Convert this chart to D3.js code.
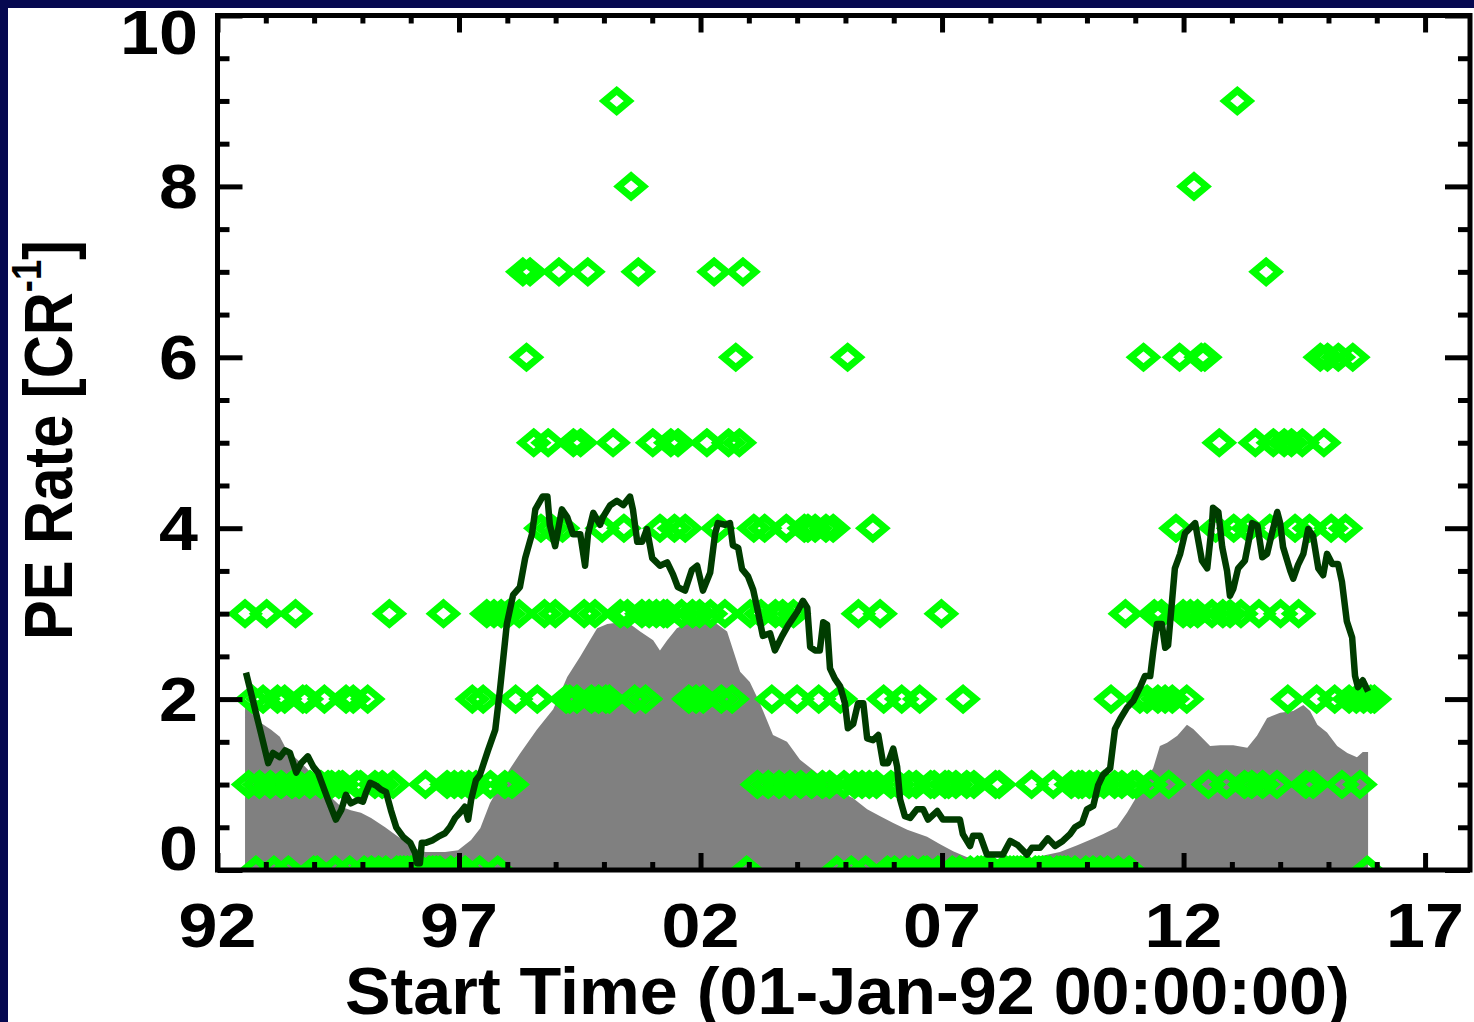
<!DOCTYPE html>
<html><head><meta charset="utf-8">
<script src="https://cdn.jsdelivr.net/npm/d3@7"></script>
<style>html,body{margin:0;padding:0;background:#060850;overflow:hidden}</style>
</head><body>
<svg id="c" width="1474" height="1022"></svg>
<script>
// ---- data ----
const crStartYear = 1992.57;          // first Carrington rotation plotted
const crStepYears = 0.0747;           // one Carrington rotation in years
const peRatePerCR = [
 3,1,2,0,1,2,3,1,0,2, 1,2,0,1,3,1,2,2,1,0, 0,1,2,1,1,0,1,1,2,0, 2,1,1,0,2,0,1,0,1,0,
 3,1,0,0,0,0,0,0,0,0, 1,0,0,0,0,3,1,0,1,0, 1,0,1,2,1,0,2,3,1,3, 0,3,1,3,1,2,3,7,6,7,
 5,2,4,3,5,4,3,7,4,2, 2,5,2,5,3,7,2,3,2,4, 2,2,5,9,3,4,3,8,2,7, 3,2,3,5,3,4,3,3,5,4,
 5,3,4,2,3,2,3,2,5,3, 7,4,2,3,5,2,6,5,7,0, 3,4,1,3,4,1,2,3,1,3, 4,1,3,2,1,4,4,1,4,2,
 1,4,1,4,0,2,1,6,0,1, 3,1,0,1,4,1,3,2,0,1, 0,1,2,0,1,0,1,2,0,0, 1,1,0,3,1,1,0,1,0,2,
 1,0,1,0,0,0,0,0,1,1, 0,0,0,0,0,0,0,0,1,0, 0,0,0,0,1,0,0,0,0,1, 0,1,1,0,1,0,1,0,1,0,
 2,1,0,1,3,0,1,1,2,6, 2,1,3,2,3,2,1,2,4,6, 3,2,3,8,3,6,6,1,3,4, 5,3,1,3,4,9,3,1,4,1,
 5,3,1,7,4,5,1,3,5,2, 5,4,3,5,1,4,1,2,6,5, 6,4,2,6,1,4,2,6,2,1, 2,0,2,2
];
const peRunningMean = [
 [1992.59,2.31],[1992.73,1.99],[1992.90,1.60],[1993.05,1.25],[1993.15,1.37],[1993.29,1.32],[1993.40,1.40],[1993.50,1.37],[1993.63,1.14],[1993.73,1.25],[1993.87,1.33],[1993.98,1.21],[1994.08,1.14],[1994.29,0.82],[1994.45,0.59],[1994.56,0.70],[1994.66,0.88],[1994.76,0.78],[1994.91,0.82],[1995.01,0.80],[1995.07,0.90],[1995.16,1.02],[1995.28,0.99],[1995.39,0.94],[1995.49,0.91],[1995.59,0.70],[1995.70,0.50],[1995.84,0.39],[1995.99,0.32],[1996.09,0.20],[1996.13,0.08],[1996.19,0.08],[1996.23,0.32],[1996.32,0.32],[1996.46,0.35],[1996.57,0.39],[1996.71,0.43],[1996.81,0.50],[1996.92,0.61],[1997.02,0.67],[1997.12,0.74],[1997.19,0.59],[1997.25,0.82],[1997.35,1.05],[1997.43,1.11],[1997.60,1.40],[1997.75,1.64],[1997.85,2.12],[1997.99,2.88],[1998.12,3.22],[1998.26,3.31],[1998.37,3.65],[1998.51,3.93],[1998.58,4.22],[1998.73,4.37],[1998.83,4.37],[1998.88,4.04],[1998.99,3.79],[1999.13,4.22],[1999.24,4.13],[1999.36,3.93],[1999.51,3.93],[1999.61,3.56],[1999.67,3.93],[1999.78,4.18],[1999.92,4.04],[1999.98,4.13],[2000.13,4.27],[2000.27,4.32],[2000.40,4.27],[2000.54,4.37],[2000.60,4.22],[2000.69,3.84],[2000.79,3.84],[2000.89,3.99],[2001.00,3.65],[2001.16,3.56],[2001.31,3.60],[2001.43,3.46],[2001.53,3.31],[2001.68,3.27],[2001.82,3.51],[2001.93,3.56],[2002.05,3.27],[2002.20,3.48],[2002.30,3.93],[2002.36,4.06],[2002.51,4.04],[2002.61,4.06],[2002.67,3.80],[2002.78,3.77],[2002.86,3.52],[2002.98,3.44],[2003.09,3.28],[2003.19,3.02],[2003.29,2.74],[2003.44,2.77],[2003.54,2.57],[2003.69,2.74],[2003.81,2.86],[2004.00,3.02],[2004.12,3.15],[2004.21,3.07],[2004.27,2.61],[2004.37,2.57],[2004.47,2.57],[2004.54,2.90],[2004.62,2.87],[2004.68,2.36],[2004.78,2.24],[2004.89,2.15],[2004.99,1.95],[2005.05,1.66],[2005.16,1.71],[2005.26,1.95],[2005.37,1.95],[2005.45,1.54],[2005.57,1.52],[2005.68,1.58],[2005.78,1.25],[2005.88,1.25],[2005.99,1.42],[2006.07,1.21],[2006.13,0.83],[2006.23,0.63],[2006.34,0.61],[2006.48,0.71],[2006.61,0.71],[2006.71,0.59],[2006.90,0.69],[2007.02,0.59],[2007.23,0.59],[2007.37,0.59],[2007.43,0.42],[2007.58,0.28],[2007.64,0.40],[2007.79,0.40],[2007.93,0.18],[2008.06,0.18],[2008.26,0.18],[2008.41,0.34],[2008.57,0.29],[2008.76,0.18],[2008.86,0.26],[2009.03,0.26],[2009.19,0.37],[2009.34,0.28],[2009.50,0.34],[2009.65,0.42],[2009.75,0.50],[2009.90,0.55],[2010.00,0.71],[2010.13,0.75],[2010.23,0.99],[2010.33,1.11],[2010.48,1.19],[2010.58,1.65],[2010.69,1.77],[2010.83,1.90],[2010.96,1.98],[2011.10,2.14],[2011.20,2.27],[2011.31,2.27],[2011.37,2.55],[2011.45,2.88],[2011.55,2.88],[2011.62,2.60],[2011.68,2.63],[2011.76,3.14],[2011.82,3.53],[2011.93,3.70],[2012.03,3.94],[2012.24,4.06],[2012.38,3.62],[2012.49,3.53],[2012.59,4.06],[2012.61,4.24],[2012.72,4.19],[2012.80,3.78],[2012.90,3.50],[2012.96,3.21],[2013.03,3.29],[2013.13,3.53],[2013.27,3.62],[2013.42,4.06],[2013.53,4.03],[2013.63,3.66],[2013.73,3.70],[2013.83,3.94],[2013.94,4.19],[2014.00,4.06],[2014.06,3.78],[2014.21,3.50],[2014.27,3.41],[2014.37,3.57],[2014.48,3.70],[2014.58,3.99],[2014.68,3.91],[2014.79,3.53],[2014.89,3.45],[2014.97,3.70],[2015.08,3.58],[2015.20,3.58],[2015.28,3.37],[2015.38,2.91],[2015.49,2.72],[2015.55,2.27],[2015.61,2.14],[2015.71,2.22],[2015.82,2.09]
];
const grayProfile = [
 [1992.57,1.92],[1992.90,1.72],[1993.11,1.64],[1993.29,1.56],[1993.40,1.44],[1993.60,1.32],[1993.81,1.21],[1994.08,1.05],[1994.35,0.85],[1994.56,0.74],[1994.76,0.70],[1994.97,0.67],[1995.18,0.61],[1995.47,0.50],[1995.74,0.39],[1996.01,0.27],[1996.30,0.21],[1996.71,0.21],[1996.98,0.23],[1997.25,0.35],[1997.44,0.49],[1997.64,0.78],[1997.91,1.06],[1998.26,1.36],[1998.61,1.64],[1998.95,1.88],[1999.24,2.26],[1999.51,2.50],[1999.71,2.69],[1999.86,2.83],[2000.07,2.88],[2000.34,2.90],[2000.54,2.88],[2000.75,2.79],[2001.02,2.69],[2001.16,2.57],[2001.31,2.69],[2001.51,2.83],[2001.78,2.90],[2002.05,2.93],[2002.34,2.88],[2002.55,2.79],[2002.82,2.32],[2003.02,2.20],[2003.23,1.95],[2003.50,1.58],[2003.79,1.50],[2004.06,1.29],[2004.33,1.17],[2004.62,1.04],[2004.89,0.92],[2005.16,0.84],[2005.45,0.71],[2005.72,0.63],[2005.99,0.55],[2006.28,0.47],[2006.69,0.39],[2006.96,0.30],[2007.23,0.22],[2007.52,0.15],[2007.79,0.12],[2008.06,0.13],[2008.76,0.13],[2009.44,0.21],[2009.80,0.29],[2010.13,0.37],[2010.34,0.42],[2010.62,0.50],[2010.83,0.67],[2011.04,0.87],[2011.25,1.08],[2011.37,1.19],[2011.51,1.45],[2011.66,1.49],[2011.87,1.57],[2012.07,1.70],[2012.20,1.65],[2012.34,1.57],[2012.55,1.45],[2012.76,1.46],[2013.03,1.46],[2013.32,1.43],[2013.52,1.57],[2013.73,1.78],[2014.00,1.84],[2014.27,1.86],[2014.48,1.93],[2014.62,1.86],[2014.77,1.70],[2014.97,1.61],[2015.18,1.45],[2015.39,1.37],[2015.59,1.32],[2015.71,1.38],[2015.82,1.38]
];
const xMajorYears = [1992,1997,2002,2007,2012,2017];
const xMajorLabels = ["92","97","02","07","12","17"];
const yMajorValues = [0,2,4,6,8,10];
const yMajorLabels = ["0","2","4","6","8","10"];
const xTitle = "Start Time (01-Jan-92 00:00:00)";
const yTitleMain = "PE Rate [CR";
const yTitleSup = "-1";
const yTitleEnd = "]";

// ---- drawing ----
const W = 1474, H = 1022;
const svg = d3.select("#c");
const FONT = "'Liberation Sans', Arial, Helvetica, sans-serif";
const pL = 217.5, pR = 1470, pT = 15.5, pB = 870;
const x = d3.scaleLinear().domain([1992, 2017.93]).range([pL, pR]);
const y = d3.scaleLinear().domain([0, 10]).range([pB, pT]);

svg.append("rect").attr("width", W).attr("height", H).attr("fill", "#060850");
svg.append("rect").attr("x", 8).attr("y", 8).attr("width", W).attr("height", H).attr("fill", "#ffffff");

svg.append("clipPath").attr("id", "plotclip").append("rect")
  .attr("x", pL).attr("y", pT).attr("width", pR - pL).attr("height", pB - pT);
const plot = svg.append("g").attr("clip-path", "url(#plotclip)");

// gray profile with white rim
plot.append("path").datum(grayProfile)
  .attr("d", d3.line().x(d => x(d[0])).y(d => y(d[1])))
  .attr("fill", "none").attr("stroke", "#ffffff").attr("stroke-width", 9);
plot.append("path").datum(grayProfile)
  .attr("d", d3.area().x(d => x(d[0])).y0(y(0)).y1(d => y(d[1])))
  .attr("fill", "#808080");

// diamonds
const crPoints = peRatePerCR.map((v, i) => ({ year: crStartYear + i * crStepYears, rate: v }));
const dw = 12.5, dh = 10.5;
plot.append("g").selectAll("path").data(crPoints).join("path")
  .attr("transform", d => `translate(${x(d.year)},${y(d.rate)})`)
  .attr("d", `M0,${-dh}L${dw},0L0,${dh}L${-dw},0Z`)
  .attr("fill", "none").attr("stroke", "#00ff00").attr("stroke-width", 7);

// running mean line
plot.append("path").datum(peRunningMean)
  .attr("d", d3.line().x(d => x(d[0])).y(d => y(d[1])))
  .attr("fill", "none").attr("stroke", "#003c00").attr("stroke-width", 6.5)
  .attr("stroke-linejoin", "round");

// axes ticks (inward)
function styleAxis(g) {
  g.select(".domain").remove();
  g.selectAll(".tick line").attr("stroke", "#000").attr("stroke-width", 5);
  g.selectAll(".tick text").remove();
}
const xMinor = d3.range(1992, 2018).filter(v => !xMajorYears.includes(v));
const yMinor = d3.range(0, 10.01, 0.5).filter(v => !yMajorValues.includes(v));

svg.append("g").attr("transform", `translate(0,${pB})`).call(d3.axisBottom(x).tickValues(xMajorYears).tickSize(-17)).call(styleAxis);
svg.append("g").attr("transform", `translate(0,${pB})`).call(d3.axisBottom(x).tickValues(xMinor).tickSize(-8)).call(styleAxis);
svg.append("g").attr("transform", `translate(0,${pT})`).call(d3.axisTop(x).tickValues(xMajorYears).tickSize(-17)).call(styleAxis);
svg.append("g").attr("transform", `translate(0,${pT})`).call(d3.axisTop(x).tickValues(xMinor).tickSize(-8)).call(styleAxis);
svg.append("g").attr("transform", `translate(${pL},0)`).call(d3.axisLeft(y).tickValues(yMajorValues).tickSize(-25)).call(styleAxis);
svg.append("g").attr("transform", `translate(${pL},0)`).call(d3.axisLeft(y).tickValues(yMinor).tickSize(-12)).call(styleAxis);
svg.append("g").attr("transform", `translate(${pR},0)`).call(d3.axisRight(y).tickValues(yMajorValues).tickSize(-25)).call(styleAxis);
svg.append("g").attr("transform", `translate(${pR},0)`).call(d3.axisRight(y).tickValues(yMinor).tickSize(-12)).call(styleAxis);

// frame
svg.append("rect").attr("x", pL).attr("y", pT).attr("width", pR - pL).attr("height", pB - pT)
  .attr("fill", "none").attr("stroke", "#000").attr("stroke-width", 5);

// tick labels
const tickFont = 62, stretch = 1.13;
svg.append("g").selectAll("g").data(xMajorYears).join("g")
  .attr("transform", d => `translate(${x(d)},947) scale(${stretch},1)`)
  .append("text").attr("text-anchor", "middle")
  .attr("font-family", FONT).attr("font-weight", "bold").attr("font-size", tickFont).attr("fill", "#000")
  .text((d, i) => xMajorLabels[i]);
svg.append("g").selectAll("g").data(yMajorValues).join("g")
  .attr("transform", d => `translate(198,${Math.min(pB, Math.max(54, y(d) + 22))}) scale(${stretch},1)`)
  .append("text").attr("text-anchor", "end")
  .attr("font-family", FONT).attr("font-weight", "bold").attr("font-size", tickFont).attr("fill", "#000")
  .text((d, i) => yMajorLabels[i]);

// x title
const xt = svg.append("text").attr("font-family", FONT).attr("font-weight", "bold").attr("font-size", 66)
  .attr("fill", "#000").text(xTitle);
const xtw = xt.node().getComputedTextLength();
xt.attr("transform", `translate(345,1014) scale(${1005 / xtw},1)`);

// y title
const yt = svg.append("text").attr("font-family", FONT).attr("font-weight", "bold").attr("font-size", 69).attr("fill", "#000");
yt.append("tspan").text(yTitleMain);
yt.append("tspan").attr("font-size", 42).attr("dy", -31).text(yTitleSup);
yt.append("tspan").attr("dy", 31).text(yTitleEnd);
const ytw = yt.node().getBBox().width;
yt.attr("transform", `translate(72,640) rotate(-90) scale(${400 / ytw},1)`);
</script>
</body></html>
